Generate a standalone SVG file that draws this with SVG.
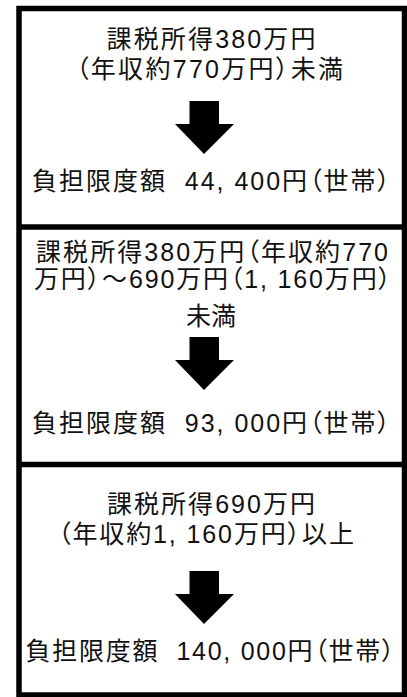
<svg xmlns="http://www.w3.org/2000/svg" width="407" height="697" viewBox="0 0 407 697">
<defs>
<style>
.frame{fill:none;stroke:#000;stroke-width:5.5}
.t{font-family:"Liberation Sans","Noto Sans CJK JP",sans-serif;font-size:25px;fill:#111;white-space:pre;font-feature-settings:"palt"}
.arr{fill:#000}
</style>
<path id="arrow" d="M-15,0 H14.5 V23 H29.5 L-0.5,53 L-29.5,23 H-15 Z"/>
</defs>
<rect width="407" height="697" fill="#fff"/>
<g id="frame">
<rect class="frame" x="19" y="8.5" width="385.5" height="686.5"/>
<line class="frame" x1="19" y1="227" x2="404.5" y2="227"/>
<line class="frame" x1="19" y1="464.5" x2="404.5" y2="464.5"/>
</g>
<g id="box1">
<text class="t" x="106.5" y="47.5" textLength="209" lengthAdjust="spacing">課税所得380万円</text>
<text class="t" x="76" y="78" textLength="267" lengthAdjust="spacing">（年収約770万円）未満</text>
<text class="t" x="32" y="190" textLength="358" lengthAdjust="spacing">負担限度額  44, 400円（世帯）</text>
</g>
<g id="box2">
<text class="t" x="36" y="260.5" textLength="352" lengthAdjust="spacing">課税所得380万円（年収約770</text>
<text class="t" x="34" y="288" textLength="357" lengthAdjust="spacing">万円）～690万円（1, 160万円）</text>
<text class="t" x="186" y="325">未満</text>
<text class="t" x="32" y="431.5" textLength="358" lengthAdjust="spacing">負担限度額  93, 000円（世帯）</text>
</g>
<g id="box3">
<text class="t" x="107" y="513" textLength="208" lengthAdjust="spacing">課税所得690万円</text>
<text class="t" x="58" y="543" textLength="296" lengthAdjust="spacing">（年収約1, 160万円）以上</text>
<text class="t" x="25.5" y="660" textLength="369" lengthAdjust="spacing">負担限度額  140, 000円（世帯）</text>
</g>
<g id="connectors">
<use href="#arrow" class="arr" x="204.5" y="101"/>
<use href="#arrow" class="arr" x="204.5" y="337"/>
<use href="#arrow" class="arr" x="204.5" y="571"/>
</g>
</svg>
